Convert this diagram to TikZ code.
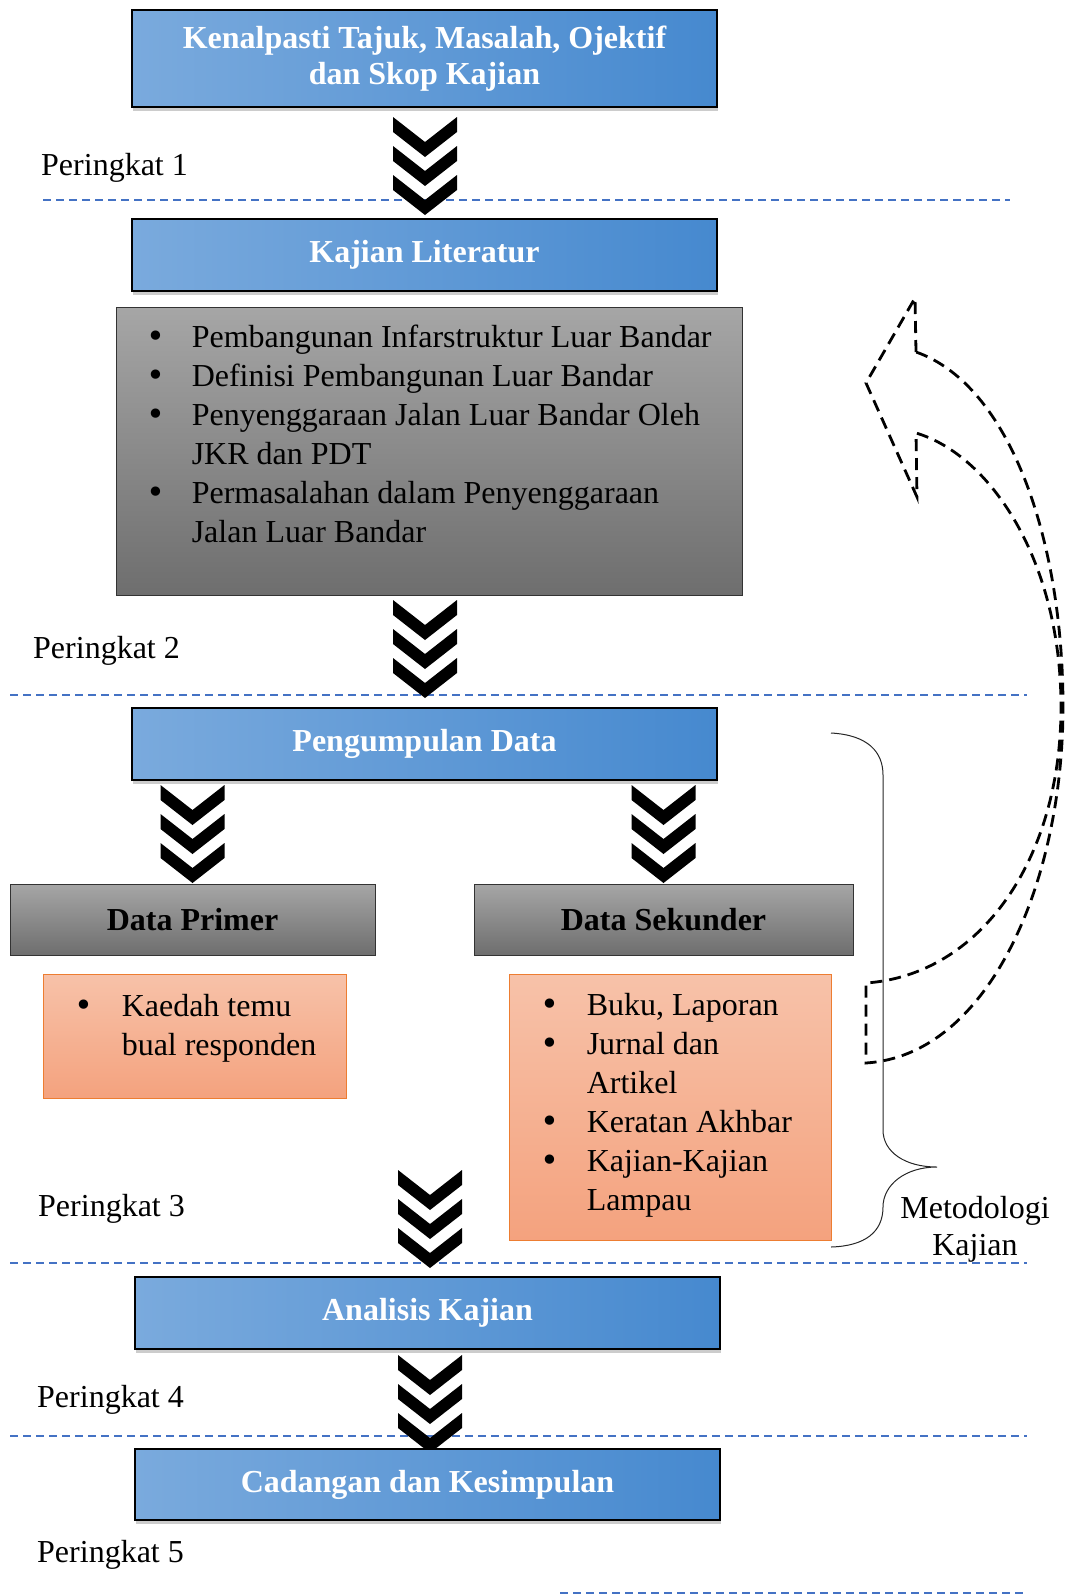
\documentclass[tikz,border=0pt]{standalone}
\usepackage{fontspec}
\setmainfont{Liberation Serif}
\newfontfamily\bulfont{DejaVu Sans}
\usepackage{tikz}
\usetikzlibrary{shadows,calc}

\definecolor{stageLight}{HTML}{7AAADD}
\definecolor{stageDark}{HTML}{4689CF}
\definecolor{greyTop}{HTML}{A6A6A6}
\definecolor{greyBot}{HTML}{6E6E6E}
\definecolor{noteTop}{HTML}{F7C2A9}
\definecolor{noteBot}{HTML}{F4A27E}
\definecolor{noteEdge}{HTML}{ED7D31}
\definecolor{levelBlue}{HTML}{4472C4}

\newcommand{\bodyfont}{\fontsize{32}{39}\selectfont}
\newcommand{\headfont}{\fontsize{32}{36}\selectfont\bfseries}
\newcommand{\bul}{{\bulfont •}}

\tikzset{
  stagebox/.style={draw=black, line width=1.6pt, left color=stageLight, right color=stageDark,
    minimum width=585pt, minimum height=72pt, inner sep=0pt, text=white, font=\headfont,
    align=center, drop shadow={opacity=0.4, shadow xshift=1pt, shadow yshift=-4pt}},
  greybox/.style={draw=black!80, line width=0.9pt, top color=greyTop, bottom color=greyBot,
    inner sep=0pt, font=\headfont},
  notebox/.style={draw=noteEdge, line width=0.9pt, top color=noteTop, bottom color=noteBot, inner sep=0pt},
  listtext/.style={anchor=base west, inner sep=0pt, font=\bodyfont},
  levellabel/.style={anchor=west, inner sep=0pt, font=\bodyfont},
  levelline/.style={draw=levelBlue, line width=1.8pt, dash pattern=on 8pt off 5pt},
  loopline/.style={draw=black, line width=2.8pt, dash pattern=on 12pt off 7pt},
  chevrons/.pic={
    \foreach \k in {0,1,2}
      \fill[black] (-32,29*\k) -- (0,29*\k+25) -- (32,29*\k) -- (32,29*\k+15)
        -- (0,29*\k+40) -- (-32,29*\k+15) -- cycle;
  }
}

\begin{document}
\begin{tikzpicture}[x=1pt, y=-1pt]
  \useasboundingbox (0,0) rectangle (1069,1595);

  % garis peringkat
  \draw[levelline] (43,200) -- (1010,200);
  \draw[levelline] (10,695) -- (1027,695);
  \draw[levelline] (10,1263) -- (1027,1263);
  \draw[levelline] (10,1436) -- (1027,1436);
  \draw[levelline] (560,1593) -- (1027,1593);

  \node[levellabel] (p1) at (41,168) {Peringkat 1};
  \node[levellabel] (p2) at (33,651) {Peringkat 2};
  \node[levellabel] (p3) at (38,1209) {Peringkat 3};
  \node[levellabel] (p4) at (37,1400) {Peringkat 4};
  \node[levellabel] (p5) at (37,1555) {Peringkat 5};

  % peringkat 1 dan 2
  \node[stagebox, minimum height=97pt] (kenal) at (424.5,58.5) {Kenalpasti Tajuk, Masalah, Ojektif\\dan Skop Kajian};
  \node[stagebox] (lit) at (424.5,255) {Kajian Literatur};
  \node[greybox, minimum width=626pt, minimum height=288pt] (litbox) at (429,451) {};
  \node[listtext] (litlist) at ($(litbox.north west)+(30.5,41)$) {\begin{tabular}[t]{@{}p{45.5pt}@{}l@{}}
    \bul & Pembangunan Infarstruktur Luar Bandar\\
    \bul & Definisi Pembangunan Luar Bandar\\
    \bul & Penyenggaraan Jalan Luar Bandar Oleh\\
         & JKR dan PDT\\
    \bul & Permasalahan dalam Penyenggaraan\\
         & Jalan Luar Bandar
  \end{tabular}};

  \pic at (425,117) {chevrons};
  \pic at (425,600) {chevrons};

  % peringkat 3
  \node[stagebox] (kumpul) at (424.5,744) {Pengumpulan Data};
  \node[greybox, minimum width=365pt, minimum height=71pt] (primer) at (192.5,919.5) {Data Primer};
  \node[greybox, minimum width=379pt, minimum height=71pt] (sekunder) at (663.5,919.5) {Data Sekunder};

  \pic at (192.5,785) {chevrons};
  \pic at (663.5,785) {chevrons};

  \node[notebox, minimum width=303pt, minimum height=124pt] (primerbox) at (194.5,1036) {};
  \node[listtext] (primerlist) at ($(primerbox.north west)+(31.5,43)$) {\begin{tabular}[t]{@{}p{47.5pt}@{}l@{}}
    \bul & Kaedah temu\\
         & bual responden
  \end{tabular}};

  \node[notebox, minimum width=322pt, minimum height=266pt] (sekunderbox) at (670,1107) {};
  \node[listtext] (sekunderlist) at ($(sekunderbox.north west)+(31.5,42)$) {\begin{tabular}[t]{@{}p{46.5pt}@{}l@{}}
    \bul & Buku, Laporan\\
    \bul & Jurnal dan\\
         & Artikel\\
    \bul & Keratan Akhbar\\
    \bul & Kajian-Kajian\\
         & Lampau
  \end{tabular}};

  % kurungan metodologi
  \draw[black!85, line width=1pt] (831,733) .. controls (868,735) and (883,752) .. (883,775)
    -- (883,1130) .. controls (883,1152) and (905,1167) .. (937,1167)
    .. controls (905,1167) and (883,1185) .. (883,1207)
    .. controls (883,1232) and (865,1246) .. (831,1247);
  \node[inner sep=0pt, align=center, font=\fontsize{32}{37}\selectfont] (metod) at (975,1229) {Metodologi\\Kajian};

  % anak panah balik
  \draw[loopline] (916,352) -- (915,298) -- (866,383) -- (917,497) -- (916,433)
    .. controls (990,455) and (1061,560) .. (1061,707)
    .. controls (1061,860) and (980,975) .. (866,983)
    -- (866,1063)
    .. controls (990,1055) and (1063,880) .. (1063,707)
    .. controls (1063,540) and (1010,385) .. (916,352) -- cycle;

  \pic at (430,1170) {chevrons};

  % peringkat 4 dan 5
  \node[stagebox] (analisis) at (427.5,1313) {Analisis Kajian};
  \pic at (430,1355) {chevrons};
  \node[stagebox, minimum height=71pt] (cadangan) at (427.5,1484.5) {Cadangan dan Kesimpulan};
\end{tikzpicture}
\end{document}
